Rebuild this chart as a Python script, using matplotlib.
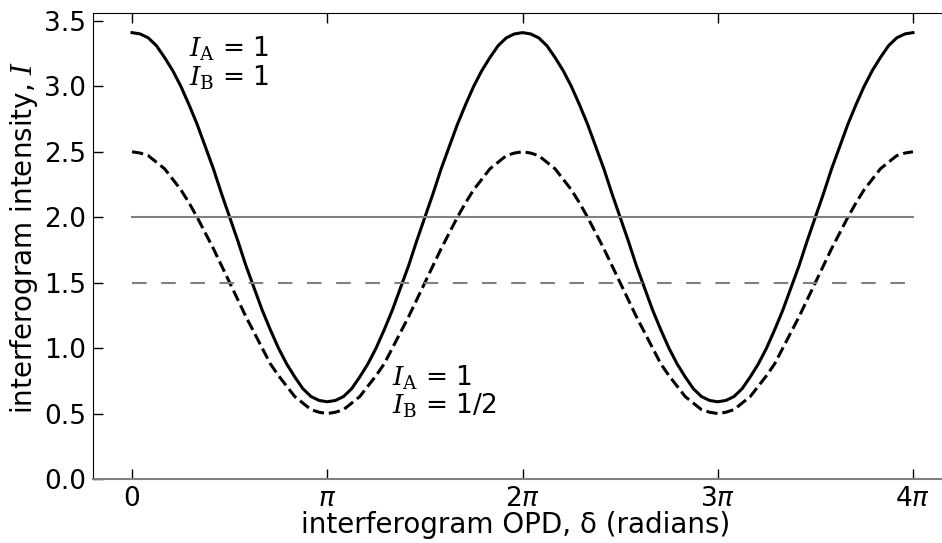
import numpy as np
import matplotlib
matplotlib.use('Agg')
import matplotlib.pyplot as plt

# sample positions, delta from 0 to 4*pi in steps of pi/24
delta = np.linspace(0, 4 * np.pi, 97)

# I_A = 1, I_B = 1
intensity_equal = [3.41, 3.40, 3.37, 3.31, 3.22, 3.12, 3.00, 2.86, 2.71, 2.54, 2.37, 2.18, 2.00,
                   1.82, 1.63, 1.46, 1.29, 1.14, 1.00, 0.88, 0.78, 0.69, 0.63, 0.60, 0.59,
                   0.60, 0.63, 0.69, 0.78, 0.88, 1.00, 1.14, 1.29, 1.46, 1.63, 1.82, 2.00,
                   2.18, 2.37, 2.54, 2.71, 2.86, 3.00, 3.12, 3.22, 3.31, 3.37, 3.40, 3.41,
                   3.40, 3.37, 3.31, 3.22, 3.12, 3.00, 2.86, 2.71, 2.54, 2.37, 2.18, 2.00,
                   1.82, 1.63, 1.46, 1.29, 1.14, 1.00, 0.88, 0.78, 0.69, 0.63, 0.60, 0.59,
                   0.60, 0.63, 0.69, 0.78, 0.88, 1.00, 1.14, 1.29, 1.46, 1.63, 1.82, 2.00,
                   2.18, 2.37, 2.54, 2.71, 2.86, 3.00, 3.12, 3.22, 3.31, 3.37, 3.40, 3.41]

# I_A = 1, I_B = 1/2
intensity_half = [2.50, 2.49, 2.47, 2.42, 2.37, 2.29, 2.21, 2.11, 2.00, 1.88, 1.76, 1.63, 1.50,
                  1.37, 1.24, 1.12, 1.00, 0.88, 0.79, 0.71, 0.63, 0.58, 0.53, 0.51, 0.50,
                  0.51, 0.53, 0.58, 0.63, 0.71, 0.79, 0.88, 1.00, 1.12, 1.24, 1.37, 1.50,
                  1.63, 1.76, 1.88, 2.00, 2.11, 2.21, 2.29, 2.37, 2.42, 2.47, 2.49, 2.50,
                  2.49, 2.47, 2.42, 2.37, 2.29, 2.21, 2.11, 2.00, 1.88, 1.76, 1.63, 1.50,
                  1.37, 1.24, 1.12, 1.00, 0.88, 0.79, 0.71, 0.63, 0.58, 0.53, 0.51, 0.50,
                  0.51, 0.53, 0.58, 0.63, 0.71, 0.79, 0.88, 1.00, 1.12, 1.24, 1.37, 1.50,
                  1.63, 1.76, 1.88, 2.00, 2.11, 2.21, 2.29, 2.37, 2.42, 2.47, 2.49, 2.50]

# mean levels (no interference)
mean_equal = 2.0
mean_half = 1.5

tick_pos = [0, np.pi, 2 * np.pi, 3 * np.pi, 4 * np.pi]
tick_labels = ['0', r'$\pi$', r'$2\pi$', r'$3\pi$', r'$4\pi$']

fig = plt.figure(figsize=(9.42, 5.43), dpi=100)
ax = fig.add_axes([93 / 942, 64 / 543, 859 / 942, 466 / 543])

ax.plot(delta, intensity_equal, color='k', lw=2.2)
ax.plot(delta, intensity_half, color='k', lw=2.2, ls='--')
ax.plot([delta[0], delta[-1]], [mean_equal, mean_equal], color='gray', lw=1.5)
ax.plot([delta[0], delta[-1]], [mean_half, mean_half], color='gray', lw=1.5, ls=(0, (7, 7)))

ax.set_xlim(-0.2 * np.pi, 4.2 * np.pi)
ax.set_ylim(0, 3.56)
ax.set_xticks(tick_pos)
ax.set_xticklabels(tick_labels)
ax.set_yticks([0, 0.5, 1.0, 1.5, 2.0, 2.5, 3.0, 3.5])
ax.tick_params(direction='in', length=7, width=1, labelsize=19, top=True, right=True, pad=5)
ax.spines['bottom'].set_color('gray')
ax.spines['bottom'].set_linewidth(1.5)

ax.text(0.91, 3.175, '$I_\\mathrm{A}$ = 1\n$I_\\mathrm{B}$ = 1', fontsize=19,
        va='center', ha='left', math_fontfamily='dejavuserif', linespacing=1.02)
ax.text(4.18, 0.665, '$I_\\mathrm{A}$ = 1\n$I_\\mathrm{B}$ = 1/2', fontsize=19,
        va='center', ha='left', math_fontfamily='dejavuserif', linespacing=1.02)

ax.set_xlabel('interferogram OPD, δ (radians)', fontsize=20, labelpad=3)
ax.set_ylabel('interferogram intensity, $I$', fontsize=20, math_fontfamily='dejavuserif')
ax.xaxis.set_label_coords(0.4924, -0.069)
ax.yaxis.set_label_coords(-0.062, 0.519)

fig.savefig('out.png', dpi=100)
